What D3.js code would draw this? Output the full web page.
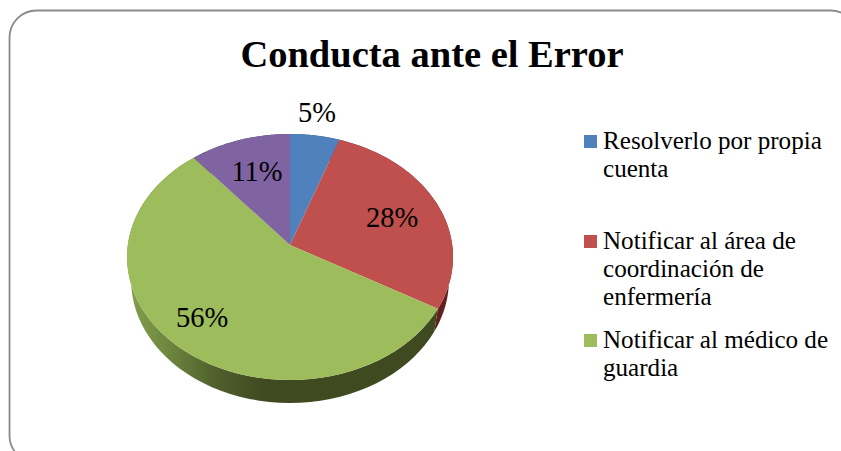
<!DOCTYPE html>
<html><head><meta charset="utf-8">
<script src="https://cdn.jsdelivr.net/npm/d3@7"></script>
<style>html,body{margin:0;padding:0;background:#fff;overflow:hidden}svg{display:block}text{font-family:"Liberation Serif",serif;fill:#000}</style>
</head><body><svg id="c" width="841" height="451"></svg>
<script>
const titleText = "Conducta ante el Error";
const seriesKeys = ["blue","red","green","purple"];
const seriesValues = [5.4, 27.9, 55.7, 11];
const seriesColors = ["#4f81bd","#c0504d","#9dbc5b","#8064a2"];
const legendLines = [["Resolverlo por propia","cuenta"],["Notificar al área de","coordinación de","enfermería"],["Notificar al médico de","guardia"]];

const svg = d3.select("#c");
const defs = svg.append("defs");
svg.append("rect").attr("x",9.5).attr("y",10.5).attr("width",848).attr("height",452).attr("rx",27).attr("ry",27)
  .attr("fill","#fff").attr("stroke","#8a8a8a").attr("stroke-width",1.8);

const cx=290, cy=257, rx=163, ry=123, depth=23, a=0.0976, baseShrink=0.975;
const pie = d3.pie().sort(null)(seriesValues);
// circle -> tilted disc with perspective (apex sits above ellipse centre)
function proj(t){
  const u=Math.sin(t), v=Math.cos(t), d=1+a*v;
  return [cx+rx*u*Math.sqrt(1-a*a)/d, cy-ry*(v+a)/d];
}
const apex=[cx,cy-ry*a];
const rim=(s)=>d3.range(0,61).map(i=>proj(s.startAngle+(s.endAngle-s.startAngle)*i/60));
const line=d3.line();

const g1=defs.append("linearGradient").attr("id","wallG").attr("gradientUnits","userSpaceOnUse").attr("x1",cx-rx).attr("x2",cx+rx).attr("y1",0).attr("y2",0);
[[0,"#84a04f"],[0.12,"#6f8840"],[0.27,"#515f2c"],[0.42,"#3f4a20"],[1,"#3f4a20"]].forEach(d=>g1.append("stop").attr("offset",d[0]).attr("stop-color",d[1]));
const wallFill={blue:"#2c4a70",red:"#64211f",green:"url(#wallG)",purple:"#4a3a60"};

svg.append("g").selectAll("path").data(pie).join("path")
  .attr("d",s=>{const r=rim(s);return line(r.concat(r.slice().reverse().map(p=>[cx+(p[0]-cx)*baseShrink,p[1]+depth])))+"Z";})
  .attr("fill",(s,i)=>wallFill[seriesKeys[i]]);
svg.append("g").selectAll("path").data(pie).join("path")
  .attr("d",s=>line([apex].concat(rim(s)))+"Z")
  .attr("fill",(s,i)=>seriesColors[i]);

svg.append("text").attr("x",432).attr("y",67).attr("text-anchor","middle")
  .attr("font-size",38.5).attr("font-weight","bold").text(titleText);

const fmt=d3.format(".0f");
const labelAt=[[317,122],[392,227],[202,327],[257,181]];
svg.append("g").selectAll("text").data(seriesValues).join("text")
  .attr("x",(d,i)=>labelAt[i][0]).attr("y",(d,i)=>labelAt[i][1]).attr("text-anchor","middle")
  .attr("font-size",28.5).text(d=>fmt(d)+"%");

const legendTop=[149,249,348];
const lg=svg.append("g").selectAll("g").data(legendLines).join("g");
lg.append("rect").attr("x",584).attr("y",(d,i)=>legendTop[i]-14).attr("width",13).attr("height",13).attr("fill",(d,i)=>seriesColors[i]);
lg.each(function(d,i){
  d3.select(this).selectAll("text").data(d).join("text")
    .attr("x",603).attr("y",(t,j)=>legendTop[i]+j*28).attr("font-size",25.1).text(t=>t);
});
</script></body></html>
